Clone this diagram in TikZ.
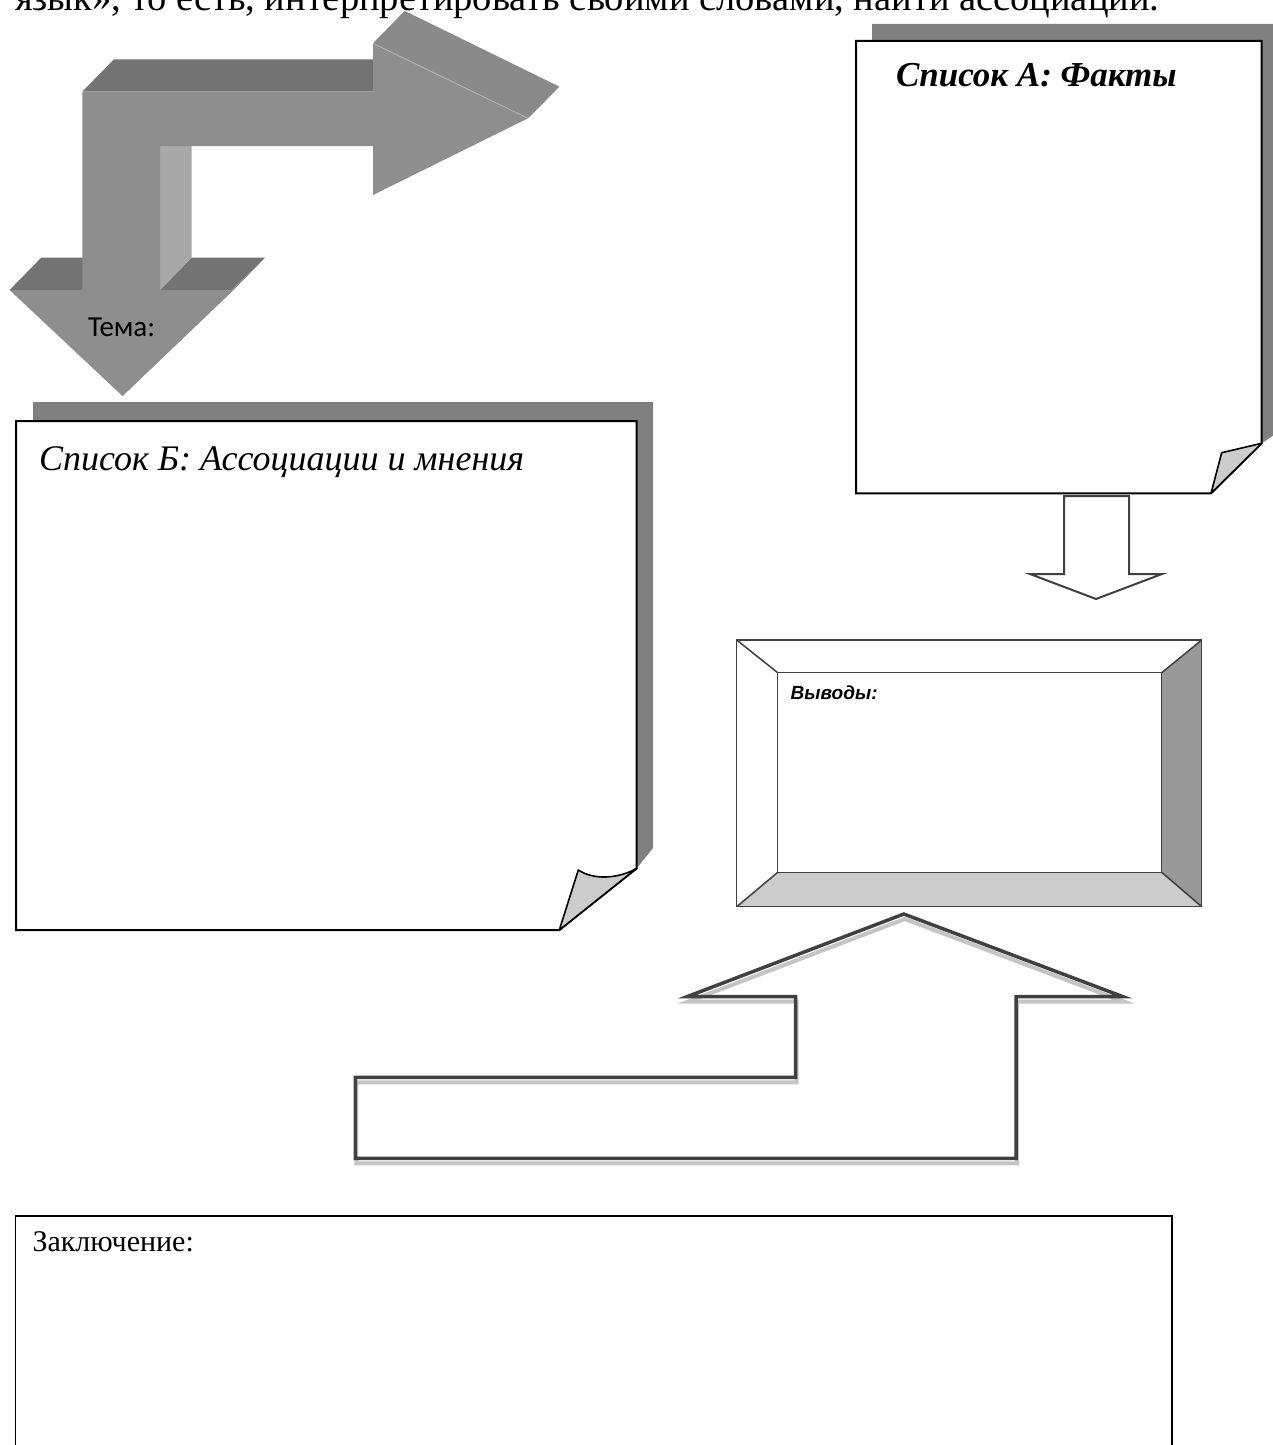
\documentclass[tikz,border=0pt]{standalone}
\usepackage{fontspec}
\setmainfont{Liberation Serif}
\newfontfamily\calibrif{Carlito}
\newfontfamily\arialf{Liberation Sans}
\definecolor{frontg}{HTML}{8E8E8E}
\definecolor{topg}{HTML}{737373}
\definecolor{sideg}{HTML}{A8A8A8}
\definecolor{headtop}{HTML}{8A8A8A}
\definecolor{slantg}{HTML}{919191}
\definecolor{shadowg}{HTML}{808080}
\definecolor{foldg}{HTML}{CCCCCC}
\definecolor{bevelr}{HTML}{999999}
\definecolor{bevelb}{HTML}{CCCCCC}
\definecolor{lineg}{HTML}{404040}
\definecolor{lightsh}{HTML}{C4C4C4}
\begin{document}
\begin{tikzpicture}[x=1pt,y=-1pt,
  paper/.style={draw=black, line width=2pt, fill=white, line join=miter},
  foldbox/.style={fill=foldg, draw=black, line width=1.6pt, line join=round},
  shadowbox/.style={fill=shadowg},
  hollow/.style={draw=lineg, line width=2pt, fill=white, line join=miter},
  bevel/.style={draw=lineg, line width=1.5pt},
  txt/.style={anchor=base west, inner sep=0pt, outer sep=0pt}]
\useasboundingbox (0,0) rectangle (1273,1445);
\clip (0,0) rectangle (1273,1445);

% intro line (cut at the top, as in the reference)
\node[txt, font=\fontsize{38.5}{40}\selectfont] (intro) at (15,11)
  {язык», то есть, интерпретировать своими словами, найти ассоциации.};

% ---- 3D bent arrow ----
\fill[topg] (82.3,91.7) -- (373,91.7) -- (404.7,59.3) -- (114,59.3) -- cycle;
\fill[headtop] (373,43.3) -- (404.7,10.9) -- (559.5,86.7) -- (528,118.3) -- cycle;
\fill[topg] (9.6,290) -- (82.3,290) -- (114,257.6) -- (41.3,257.6) -- cycle;
\fill[topg] (160,290) -- (233.4,290) -- (265,257.6) -- (191.7,257.6) -- cycle;
\fill[sideg] (160,146) -- (191.7,146) -- (191.7,257.6) -- (160,290) -- cycle;
\fill[slantg] (233.4,290) -- (265,257.6) -- (154.2,363.6) -- (122.5,396) -- cycle;
\fill[frontg] (82.3,91.7) -- (373,91.7) -- (373,43.3) -- (528,118.3) -- (373,195)
  -- (373,146) -- (160,146) -- (160,290) -- (233.4,290) -- (122.5,396)
  -- (9.6,290) -- (82.3,290) -- cycle;
\draw[white, opacity=0.25, line width=1pt] (373,43.3) -- (528,118.3);
\node[txt, font=\calibrif\fontsize{29}{30}\selectfont] (tema) at (88,336) {Тема:};

% ---- List A ----
\fill[shadowbox] (872,24) -- (1280,24) -- (1280,431) -- (1261.7,443.3) -- (872,443.3) -- cycle;
\draw[paper] (856,41) -- (1261.7,41) -- (1261.7,443.3) -- (1211,493.3) -- (856,493.3) -- cycle;
\draw[foldbox] (1211,493.3) -- (1221.7,452.7) -- (1261.7,443.3) -- cycle;
\node[txt, font=\bfseries\itshape\fontsize{35}{38}\selectfont] (listA) at (896,86) {Список А: Факты};

% ---- List B ----
\fill[shadowbox] (33,402) -- (653,402) -- (653,848) -- (636.7,868.3) -- (33,868.3) -- cycle;
\draw[paper] (16,421) -- (636.7,421) -- (636.7,868.3) -- (559.3,930) -- (16,930) -- cycle;
\draw[foldbox] (559.3,930) -- (578.3,870) .. controls (595,881) and (620,878) .. (636.7,868.3) -- cycle;
\node[txt, font=\itshape\fontsize{36}{38}\selectfont] (listB) at (39,470) {Список Б: Ассоциации и мнения};

% ---- hollow arrow A -> conclusions ----
\draw[hollow] (1064,496) -- (1129,496) -- (1129,574) -- (1162,574) -- (1096,599)
  -- (1030,574) -- (1064,574) -- cycle;

% ---- bevel frame "Выводы" ----
\fill[white] (736.7,640) rectangle (1201.7,906.7);
\fill[bevelr] (1161.7,672.7) -- (1201.7,640) -- (1201.7,906.7) -- (1161.7,872.3) -- cycle;
\fill[bevelb] (736.7,906.7) -- (777.7,872.3) -- (1161.7,872.3) -- (1201.7,906.7) -- cycle;
\draw[bevel] (736.7,640) rectangle (1201.7,906.7);
\draw[bevel] (777.7,672.7) rectangle (1161.7,872.3);
\draw[bevel] (736.7,640) -- (777.7,672.7);
\draw[bevel] (1201.7,640) -- (1161.7,672.7);
\draw[bevel] (736.7,906.7) -- (777.7,872.3);
\draw[bevel] (1201.7,906.7) -- (1161.7,872.3);
\node[txt, font=\arialf\bfseries\itshape\fontsize{19}{20}\selectfont] (vyvody) at (790.7,699) {Выводы:};

% ---- hollow bent up arrow ----
\draw[lightsh, line width=4pt, shift={(1,5)}] (903.8,914) -- (1123,996.7) -- (1016,996.7)
  -- (1016,1158.3) -- (355.3,1158.3) -- (355.3,1077.3) -- (795.6,1077.3) -- (795.6,996.7)
  -- (687,996.7) -- cycle;
\draw[lineg, line width=3.5pt, line join=miter] (903.8,914) -- (1123,996.7) -- (1016,996.7)
  -- (1016,1158.3) -- (355.3,1158.3) -- (355.3,1077.3) -- (795.6,1077.3) -- (795.6,996.7)
  -- (687,996.7) -- cycle;

% ---- conclusion box ----
\draw[black, line width=1.5pt] (15.3,1216) rectangle (1172,1470);
\node[txt, font=\fontsize{30}{32}\selectfont] (zakl) at (32.5,1251) {Заключение:};
\end{tikzpicture}
\end{document}
